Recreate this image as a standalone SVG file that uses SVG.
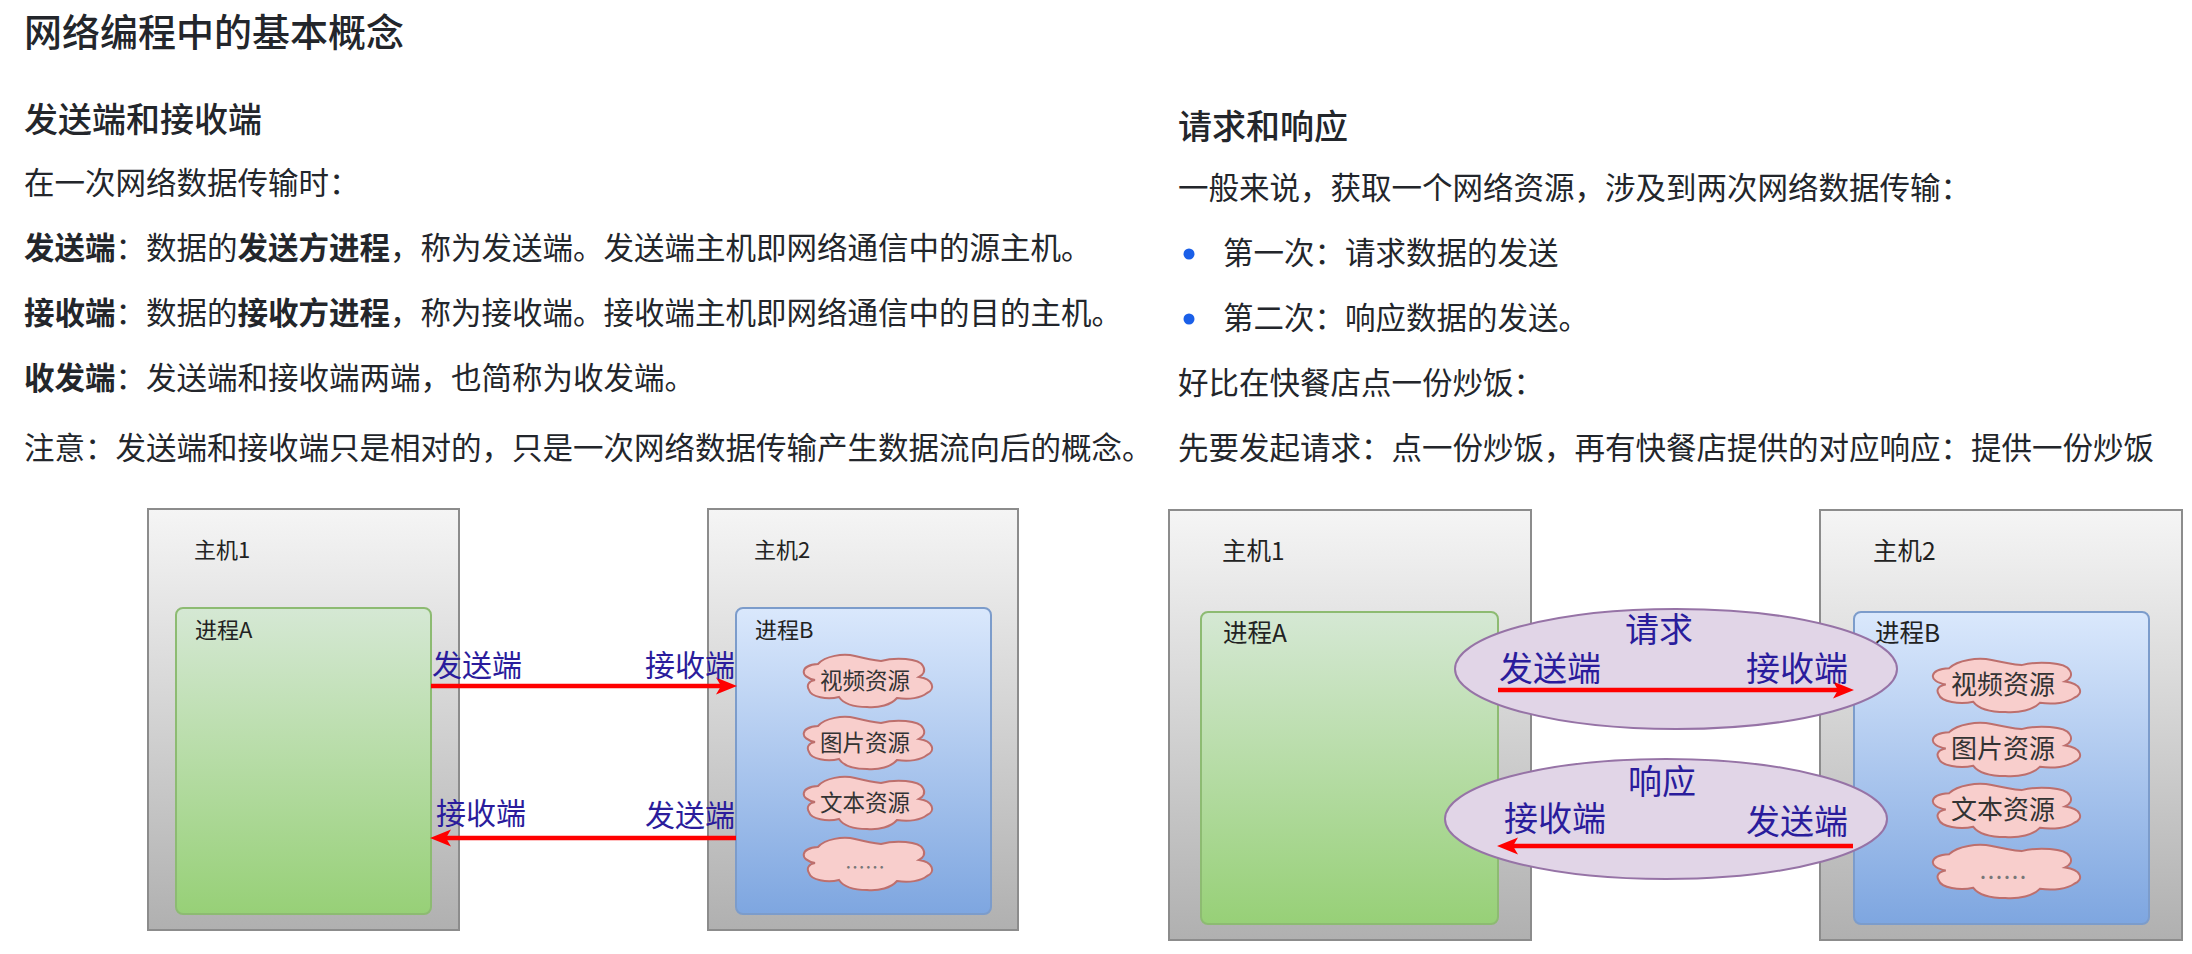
<svg xmlns="http://www.w3.org/2000/svg" xmlns:xlink="http://www.w3.org/1999/xlink" width="2192" height="954" viewBox="0 0 2192 954">
<style>
text{font-family:"Noto Sans CJK SC","Noto Sans",sans-serif;fill:#23262b}
.h1{font-size:38px;font-weight:500}
.h2{font-size:34px;font-weight:500}
.b{font-size:30.5px}
.br{font-size:30.5px}
.bt{font-weight:700}
.l{font-size:22px;fill:#222}
.lr{font-size:24.5px;fill:#222}
.c{font-size:22.5px;fill:#333;text-anchor:middle}
.cr{font-size:26px;fill:#333;text-anchor:middle}
.bl{font-size:30px;fill:#2a1c9c}
.blr{font-size:34px;fill:#2a1c9c}
.host{fill:url(#gh);stroke:#8c8c8c;stroke-width:2}
.pa{fill:url(#ga);stroke:#8dbb72;stroke-width:2}
.pb{fill:url(#gb);stroke:#7c9ccb;stroke-width:2}
.cl{fill:#f8cecc;stroke:#bd6f6d;stroke-width:2;vector-effect:non-scaling-stroke}
.el{fill:#e1d5e7;stroke:#9673a6;stroke-width:2}
.ar{stroke:#ff0000;stroke-width:4.5;fill:none;marker-end:url(#ah)}
</style>
<defs>
<linearGradient id="gh" x1="0" y1="0" x2="0" y2="1"><stop offset="0" stop-color="#f5f5f5"/><stop offset="1" stop-color="#b0b0b0"/></linearGradient>
<linearGradient id="ga" x1="0" y1="0" x2="0" y2="1"><stop offset="0" stop-color="#d5e8d4"/><stop offset="1" stop-color="#97d077"/></linearGradient>
<linearGradient id="gb" x1="0" y1="0" x2="0" y2="1"><stop offset="0" stop-color="#dae8fc"/><stop offset="1" stop-color="#7ea6e0"/></linearGradient>
<marker id="ah" markerUnits="userSpaceOnUse" markerWidth="22" markerHeight="18" refX="10" refY="9" orient="auto" viewBox="0 0 22 18"><path d="M0 0.5L21 9L0 17.5L5 9Z" fill="#ff0000"/></marker>
<symbol id="cloud" viewBox="0 0 129 52" preserveAspectRatio="none" overflow="visible">
<path class="cl" d="M12 25C-4 22 -3 10 15 9C22 1 40 -2 52 1C60 3 68 5 78 6C92 2 116 3 120 11C123 16 120 20 116 22C130 24 133 34 124 38C118 43 106 45 94 43C88 50 76 53 64 52C50 52 40 48 36 42C24 45 8 42 6 35C3 30 6 26 12 25Z"/>
</symbol>
</defs>

<g id="text-left">
<text class="h1" x="24" y="46">网络编程中的基本概念</text>
<text class="h2" x="24" y="132">发送端和接收端</text>
<text class="b" x="24" y="194">在一次网络数据传输时：</text>
<text class="b" x="24" y="259"><tspan class="bt">发送端</tspan>：数据的<tspan class="bt">发送方进程</tspan>，称为发送端。发送端主机即网络通信中的源主机。</text>
<text class="b" x="24" y="324"><tspan class="bt">接收端</tspan>：数据的<tspan class="bt">接收方进程</tspan>，称为接收端。接收端主机即网络通信中的目的主机。</text>
<text class="b" x="24" y="389"><tspan class="bt">收发端</tspan>：发送端和接收端两端，也简称为收发端。</text>
<text class="b" x="24" y="459">注意：发送端和接收端只是相对的，只是一次网络数据传输产生数据流向后的概念。</text>
</g>

<g id="text-right">
<text class="h2" x="1178" y="139">请求和响应</text>
<text class="br" x="1178" y="199">一般来说，获取一个网络资源，涉及到两次网络数据传输：</text>
<circle cx="1189" cy="254" r="5.5" fill="#1a5fe8"/>
<text class="br" x="1223" y="264">第一次：请求数据的发送</text>
<circle cx="1189" cy="319" r="5.5" fill="#1a5fe8"/>
<text class="br" x="1223" y="329">第二次：响应数据的发送。</text>
<text class="br" x="1178" y="394">好比在快餐店点一份炒饭：</text>
<text class="br" x="1178" y="459">先要发起请求：点一份炒饭，再有快餐店提供的对应响应：提供一份炒饭</text>
</g>

<g id="left-host1"><rect class="host" x="148" y="509" width="311" height="421"/><text class="l" x="194" y="558">主机1</text></g>
<g id="left-procA"><rect class="pa" x="176" y="608" width="255" height="306" rx="7"/><text class="l" x="195" y="638">进程A</text></g>
<g id="left-host2"><rect class="host" x="708" y="509" width="310" height="421"/><text class="l" x="754" y="558">主机2</text></g>
<g id="left-procB"><rect class="pb" x="736" y="608" width="255" height="306" rx="7"/><text class="l" x="755" y="638">进程B</text></g>
<g id="left-cloud1"><use href="#cloud" x="803" y="655" width="129" height="52"/><text class="c" x="865" y="689">视频资源</text></g>
<g id="left-cloud2"><use href="#cloud" x="803" y="717" width="129" height="52"/><text class="c" x="865" y="751">图片资源</text></g>
<g id="left-cloud3"><use href="#cloud" x="803" y="777" width="129" height="52"/><text class="c" x="865" y="811">文本资源</text></g>
<g id="left-cloud4"><use href="#cloud" x="803" y="838" width="129" height="52"/><text class="c" x="865" y="875" style="font-size:20px;fill:#777">……</text></g>

<g id="right-host1"><rect class="host" x="1169" y="510" width="362" height="430"/><text class="lr" x="1222" y="560">主机1</text></g>
<g id="right-procA"><rect class="pa" x="1201" y="612" width="297" height="312" rx="7"/><text class="lr" x="1223" y="642">进程A</text></g>
<g id="right-host2"><rect class="host" x="1820" y="510" width="362" height="430"/><text class="lr" x="1873" y="560">主机2</text></g>
<g id="right-procB"><rect class="pb" x="1854" y="612" width="295" height="312" rx="7"/><text class="lr" x="1875" y="642">进程B</text></g>
<g id="right-cloud1"><use href="#cloud" x="1932" y="659" width="148" height="53"/><text class="cr" x="2003" y="694">视频资源</text></g>
<g id="right-cloud2"><use href="#cloud" x="1932" y="723" width="148" height="53"/><text class="cr" x="2003" y="758">图片资源</text></g>
<g id="right-cloud3"><use href="#cloud" x="1932" y="784" width="148" height="53"/><text class="cr" x="2003" y="819">文本资源</text></g>
<g id="right-cloud4"><use href="#cloud" x="1932" y="845" width="148" height="53"/><text class="cr" x="2003" y="886" style="font-size:24px;fill:#777">……</text></g>
<g id="right-ellipse-request"><ellipse class="el" cx="1676" cy="669" rx="221" ry="60"/><text class="blr" x="1625" y="642">请求</text></g>
<g id="right-ellipse-response"><ellipse class="el" cx="1666" cy="819" rx="221" ry="60"/><text class="blr" x="1628" y="794">响应</text></g>

<g id="connectors">
<line class="ar" x1="431" y1="686" x2="726" y2="686"/>
<line class="ar" x1="736" y1="838" x2="441" y2="838"/>
<line class="ar" x1="1498" y1="690" x2="1843" y2="690"/>
<line class="ar" x1="1853" y1="846" x2="1508" y2="846"/>
</g>
<g id="connector-labels">
<text class="bl" x="432" y="676">发送端</text>
<text class="bl" x="645" y="676">接收端</text>
<text class="bl" x="436" y="824">接收端</text>
<text class="bl" x="645" y="826">发送端</text>
<text class="blr" x="1499" y="681">发送端</text>
<text class="blr" x="1746" y="681">接收端</text>
<text class="blr" x="1504" y="831">接收端</text>
<text class="blr" x="1746" y="834">发送端</text>
</g>
</svg>
